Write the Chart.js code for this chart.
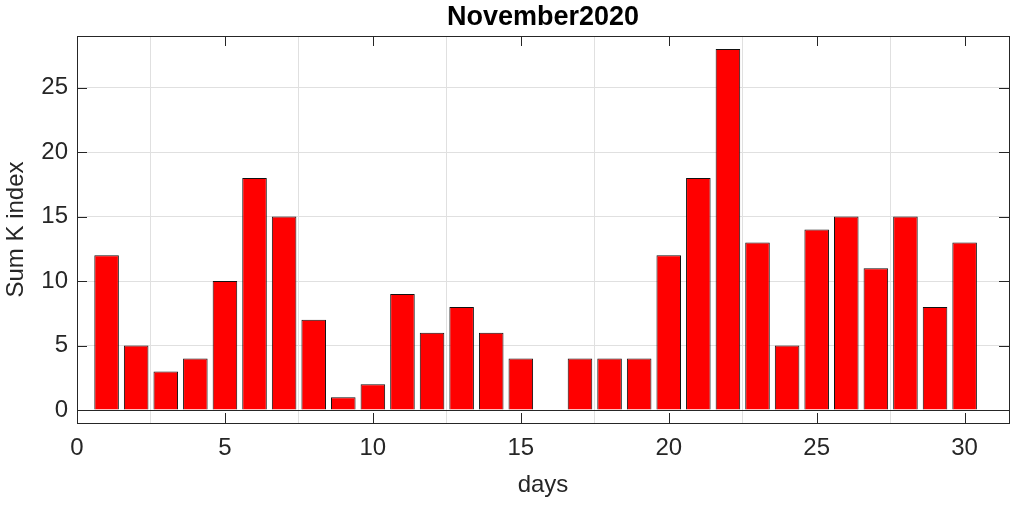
<!DOCTYPE html>
<html>
<head>
<meta charset="utf-8">
<script src="https://cdn.jsdelivr.net/npm/chart.js@4"></script>
<style>
    html, body { margin: 0; padding: 0; background: #fff; }
    #wrap { width: 1017px; height: 506px; }
</style>
</head>
<body>
<div id="wrap"><canvas id="kChart" width="1017" height="506"></canvas></div>
<script>
// data
const days = [1, 2, 3, 4, 5, 6, 7, 8, 9, 10, 11, 12, 13, 14, 15,
              16, 17, 18, 19, 20, 21, 22, 23, 24, 25, 26, 27, 28, 29, 30];
const sumK = [12, 5, 3, 4, 10, 18, 15, 7, 1, 2, 9, 6, 8, 6, 4,
              0, 4, 4, 4, 12, 18, 28, 13, 5, 14, 15, 11, 15, 8, 13];
const xTicks = [0, 5, 10, 15, 20, 25, 30];
const yTicks = [0, 5, 10, 15, 20, 25];

const axisColor = '#262626';
const gridColor = '#e0e0e0';
const fontFamily = 'Liberation Sans, Arial, sans-serif';

// box, inward ticks and baseline like matlab axes
const boxPlugin = {
    id: 'matlabBox',
    afterDatasetsDraw(chart) {
        const { ctx, chartArea: a, scales: { x, y } } = chart;
        ctx.save();
        ctx.strokeStyle = axisColor;
        ctx.lineWidth = 1;
        // baseline at y = 0
        const y0 = Math.round(y.getPixelForValue(0)) + 0.5;
        ctx.beginPath();
        ctx.moveTo(a.left, y0);
        ctx.lineTo(a.right, y0);
        ctx.stroke();
        // ticks pointing inwards
        const len = 10;
        ctx.beginPath();
        xTicks.forEach(v => {
            const px = Math.round(x.getPixelForValue(v)) + 0.5;
            ctx.moveTo(px, a.bottom); ctx.lineTo(px, a.bottom - len);
            ctx.moveTo(px, a.top); ctx.lineTo(px, a.top + len);
        });
        yTicks.forEach(v => {
            const py = Math.round(y.getPixelForValue(v)) + 0.5;
            ctx.moveTo(a.left, py); ctx.lineTo(a.left + len, py);
            ctx.moveTo(a.right, py); ctx.lineTo(a.right - len, py);
        });
        ctx.stroke();
        // the box
        ctx.strokeRect(Math.round(a.left) + 0.5, Math.round(a.top) + 0.5,
                       Math.round(a.right - a.left), Math.round(a.bottom - a.top));
        ctx.restore();
    }
};

const setTicks = list => scale => {
    scale.ticks = list.map(v => ({ value: v }));
};

new Chart(document.getElementById('kChart'), {
    type: 'bar',
    data: {
        datasets: [{
            label: 'Sum K index',
            data: days.map((d, i) => ({ x: d, y: sumK[i] })),
            backgroundColor: '#ff0000',
            borderColor: '#111111',
            borderWidth: 1,
            barPercentage: 0.83,
            categoryPercentage: 1.0
        }]
    },
    options: {
        responsive: false,
        animation: false,
        layout: { padding: { left: 0, right: 8, top: 0, bottom: 0 } },
        plugins: {
            legend: { display: false },
            tooltip: { enabled: false },
            title: {
                display: true,
                fullSize: false,
                text: 'November2020',
                color: '#000',
                font: { family: fontFamily, size: 27, weight: 'bold' },
                padding: { top: 1.3, bottom: 2.3 }
            }
        },
        scales: {
            x: {
                type: 'linear',
                min: 0,
                max: 31.5,
                offset: false,
                afterBuildTicks: setTicks(xTicks),
                afterFit: s => { s.height = 83; },
                grid: { color: gridColor, drawTicks: false },
                border: { display: false },
                ticks: {
                    color: axisColor,
                    padding: 11,
                    maxRotation: 0,
                    font: { family: fontFamily, size: 24 }
                },
                title: {
                    display: true,
                    text: 'days',
                    color: axisColor,
                    padding: { top: 0, bottom: 6.6 },
                    font: { family: fontFamily, size: 24 }
                }
            },
            y: {
                min: -1,
                max: 29,
                afterBuildTicks: setTicks(yTicks),
                afterFit: s => { s.width = 77; },
                grid: { color: gridColor, drawTicks: false },
                border: { display: false },
                ticks: {
                    color: axisColor,
                    padding: 9,
                    font: { family: fontFamily, size: 24 }
                },
                title: {
                    display: true,
                    text: 'Sum K index',
                    color: axisColor,
                    padding: { top: 2, bottom: 0 },
                    font: { family: fontFamily, size: 24 }
                }
            }
        }
    },
    plugins: [boxPlugin]
});
</script>
</body>
</html>
